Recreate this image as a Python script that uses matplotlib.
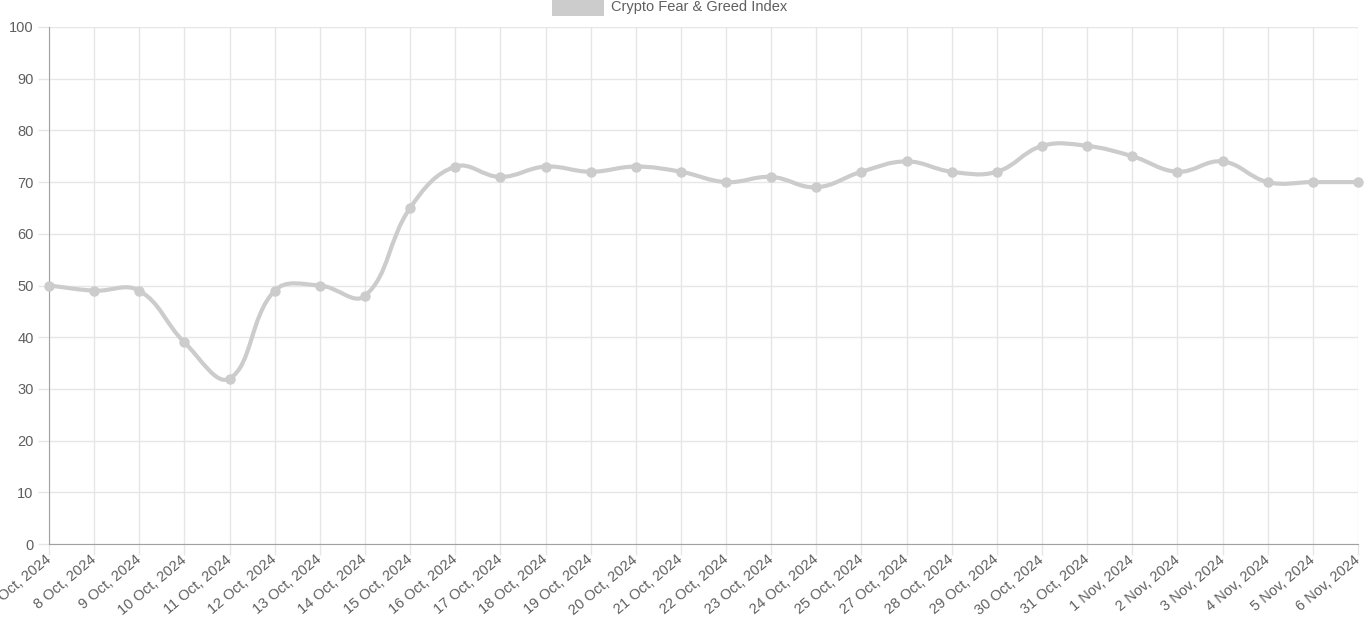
import numpy as np
import matplotlib
matplotlib.use("Agg")
import matplotlib.pyplot as plt
from matplotlib.path import Path
from matplotlib.patches import PathPatch, Rectangle

labels = ["7 Oct, 2024", "8 Oct, 2024", "9 Oct, 2024", "10 Oct, 2024", "11 Oct, 2024",
          "12 Oct, 2024", "13 Oct, 2024", "14 Oct, 2024", "15 Oct, 2024", "16 Oct, 2024",
          "17 Oct, 2024", "18 Oct, 2024", "19 Oct, 2024", "20 Oct, 2024", "21 Oct, 2024",
          "22 Oct, 2024", "23 Oct, 2024", "24 Oct, 2024", "25 Oct, 2024", "27 Oct, 2024",
          "28 Oct, 2024", "29 Oct, 2024", "30 Oct, 2024", "31 Oct, 2024", "1 Nov, 2024",
          "2 Nov, 2024", "3 Nov, 2024", "4 Nov, 2024", "5 Nov, 2024", "6 Nov, 2024"]
values = [50, 49, 49, 39, 32, 49, 50, 48, 65, 73, 71, 73, 72, 73, 72,
          70, 71, 69, 72, 74, 72, 72, 77, 77, 75, 72, 74, 70, 70, 70]

plt.rcParams['font.family'] = ['Liberation Sans', 'DejaVu Sans']

fig = plt.figure(figsize=(13.71, 6.19), dpi=100)
ax = fig.add_axes([49/1371, 75/619, 1309/1371, 517/619])

x = np.arange(len(values), dtype=float)
y = np.array(values, dtype=float)

# chart.js style spline (tension 0.4), distances measured in pixels
sx = 1309 / (len(values) - 1)
sy = 517 / 100
t = 0.4
n = len(x)
cp_prev = np.zeros((n, 2))
cp_next = np.zeros((n, 2))
for i in range(n):
    p = np.array([x[i], y[i]])
    a = np.array([x[max(i-1, 0)], y[max(i-1, 0)]])
    b = np.array([x[min(i+1, n-1)], y[min(i+1, n-1)]])
    d01 = np.hypot((p[0]-a[0])*sx, (p[1]-a[1])*sy)
    d12 = np.hypot((b[0]-p[0])*sx, (b[1]-p[1])*sy)
    tot = d01 + d12
    s01 = d01 / tot if tot else 0
    s12 = d12 / tot if tot else 0
    cp_prev[i] = p - t*s01*(b - a)
    cp_next[i] = p + t*s12*(b - a)
cp_prev[:, 1] = np.clip(cp_prev[:, 1], 0, 100)
cp_next[:, 1] = np.clip(cp_next[:, 1], 0, 100)

verts = [(x[0], y[0])]
codes = [Path.MOVETO]
for i in range(n-1):
    verts += [tuple(cp_next[i]), tuple(cp_prev[i+1]), (x[i+1], y[i+1])]
    codes += [Path.CURVE4]*3
line_col = '#cccccc'
ax.add_patch(PathPatch(Path(verts, codes), fill=False, edgecolor=line_col, lw=3, zorder=3,
                       clip_on=False, capstyle='round', joinstyle='round'))
ax.plot(x, y, 'o', color=line_col, ms=6.5, zorder=4, clip_on=False)

ax.set_xlim(0, n-1)
ax.set_ylim(0, 100)
ax.set_yticks(np.arange(0, 101, 10))
ax.set_xticks(x)
ax.set_xticklabels(labels, rotation=40, ha='right', va='center', rotation_mode='anchor')
ax.grid(True, color='#e6e6e6', lw=1)
ax.set_axisbelow(True)
for s in ['top', 'right']:
    ax.spines[s].set_visible(False)
for s in ['left', 'bottom']:
    ax.spines[s].set_color('#a0a0a0')
ax.tick_params(axis='both', colors='#e6e6e6', labelcolor='#5f5f5f', labelsize=10.5, length=8, width=1)
ax.tick_params(axis='x', pad=2)
ax.tick_params(axis='y', pad=3)

fig.patches.append(Rectangle((552/1371, 1 - 16/619), 52/1371, 16/619, transform=fig.transFigure,
                             facecolor=line_col, edgecolor='none'))
fig.text(611/1371, 1 - 7/619, 'Crypto Fear & Greed Index', color='#5f5f5f', fontsize=10.5,
         va='center', ha='left')

fig.savefig('out.png', dpi=100)
